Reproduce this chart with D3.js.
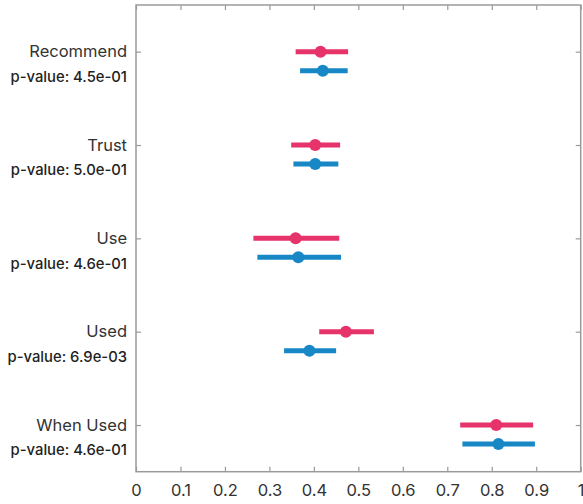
<!DOCTYPE html>
<html><head><meta charset="utf-8">
<script src="https://cdn.jsdelivr.net/npm/d3@7"></script>
<style>html,body{margin:0;padding:0;background:#fff;}svg{display:block;}</style>
</head><body>
<svg id="chart" width="583" height="504"></svg>
<script>
const categories = ["Recommend", "Trust", "Use", "Used", "When Used"];
const pValues = ["4.5e-01", "5.0e-01", "4.6e-01", "6.9e-03", "4.6e-01"];
const redMean = [0.415, 0.403, 0.359, 0.472, 0.810];
const redLow  = [0.359, 0.349, 0.264, 0.412, 0.729];
const redHigh = [0.477, 0.459, 0.457, 0.535, 0.893];
const blueMean = [0.420, 0.403, 0.365, 0.390, 0.815];
const blueLow  = [0.369, 0.354, 0.273, 0.333, 0.734];
const blueHigh = [0.476, 0.455, 0.461, 0.450, 0.897];
const xTicks = [0, 0.1, 0.2, 0.3, 0.4, 0.5, 0.6, 0.7, 0.8, 0.9, 1];

const svg = d3.select("#chart");
const L = 136, R = 580.7, T = 5, B = 471.7;
const x = d3.scaleLinear().domain([0, 1]).range([L, R]);
const y = d3.scalePoint().domain(categories).range([T, B]).padding(0.5);
const frame = "#9a9a9a";
const offset = 19;
const font = "Inter, 'Open Sans', sans-serif";

// frame
svg.append("rect").attr("x", L).attr("y", T).attr("width", R - L).attr("height", B - T)
  .attr("fill", "none").attr("stroke", frame).attr("stroke-width", 1.5);

// bottom axis (ticks inward)
const bx = svg.append("g").attr("transform", `translate(0,${B})`)
  .call(d3.axisBottom(x).tickValues(xTicks).tickSize(-5).tickPadding(13)
    .tickFormat(d => d3.format("")(d)));
bx.select(".domain").remove();
bx.selectAll("line").attr("stroke", frame).attr("stroke-width", 1.2);
bx.selectAll("text").attr("font-family", font).attr("font-size", 16.5).attr("fill", "#333");

// top mirror ticks
const tx = svg.append("g").attr("transform", `translate(0,${T})`)
  .call(d3.axisTop(x).tickValues(xTicks).tickSize(-5).tickFormat(""));
tx.select(".domain").remove();
tx.selectAll("line").attr("stroke", frame).attr("stroke-width", 1.2);

// left axis ticks inward
const ly = svg.append("g").attr("transform", `translate(${L},0)`)
  .call(d3.axisLeft(y).tickSize(-5).tickFormat(""));
ly.select(".domain").remove();
ly.selectAll("line").attr("stroke", frame).attr("stroke-width", 1.2);

// right axis ticks inward
const ry = svg.append("g").attr("transform", `translate(${R},0)`)
  .call(d3.axisRight(y).tickSize(-5).tickFormat(""));
ry.select(".domain").remove();
ry.selectAll("line").attr("stroke", frame).attr("stroke-width", 1.2);

// labels
const lab = svg.append("g");
categories.forEach((c, i) => {
  lab.append("text").attr("x", 127).attr("y", y(c)).attr("dy", "0.35em")
    .attr("text-anchor", "end").attr("font-family", font)
    .attr("font-size", 16.5).attr("fill", "#333").text(c);
  lab.append("text").attr("x", 127).attr("y", y(c) + 25).attr("dy", "0.35em")
    .attr("text-anchor", "end").attr("font-family", font)
    .attr("font-size", 14.8).attr("font-weight", 500).attr("fill", "#222").text("p-value: " + pValues[i]);
});

const series = [
  {mean: redMean, low: redLow, high: redHigh, color: "#e6336a", dy: 0},
  {mean: blueMean, low: blueLow, high: blueHigh, color: "#1787c5", dy: offset}
];
series.forEach(s => {
  const g = svg.append("g");
  g.selectAll("line").data(categories).join("line")
    .attr("x1", (c, i) => x(s.low[i])).attr("x2", (c, i) => x(s.high[i]))
    .attr("y1", c => y(c) + s.dy).attr("y2", c => y(c) + s.dy)
    .attr("stroke", s.color).attr("stroke-width", 5);
  g.selectAll("circle").data(categories).join("circle")
    .attr("cx", (c, i) => x(s.mean[i])).attr("cy", c => y(c) + s.dy)
    .attr("r", 6).attr("fill", s.color);
});
</script>
</body></html>
